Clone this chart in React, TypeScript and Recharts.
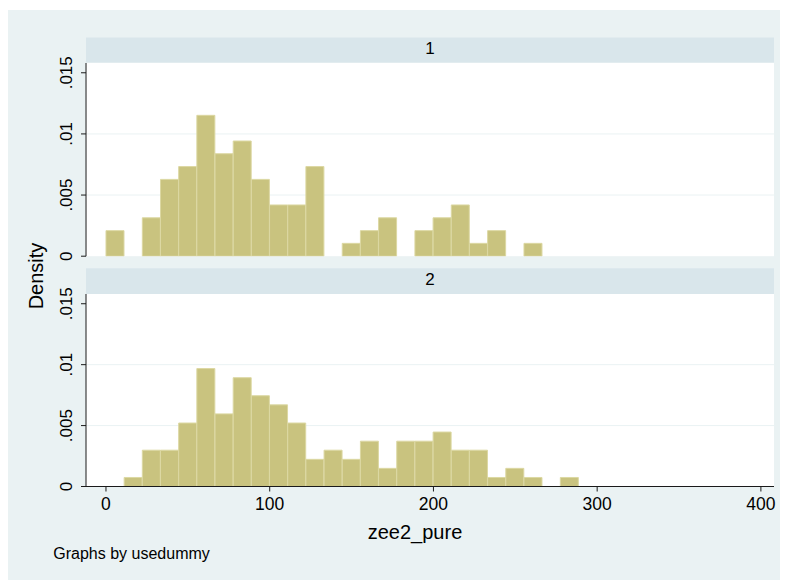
import React from 'react';
import { BarChart, Bar, XAxis, YAxis, CartesianGrid } from 'recharts';

// bin midpoints (bin width ~11.1)
const binMids = [
  5.55, 16.65, 27.75, 38.85, 49.95, 61.05, 72.15, 83.25, 94.35, 105.45, 116.55, 127.65, 138.75,
  149.85, 160.95, 172.05, 183.15, 194.25, 205.35, 216.45, 227.55, 238.65, 249.75, 260.85, 271.95, 283.05,
];

// usedummy = 1
const densityOne = [
  0.00209, 0, 0.00314, 0.00628, 0.00733, 0.01152, 0.00838, 0.00942, 0.00628, 0.00419, 0.00419, 0.00733, 0,
  0.00105, 0.00209, 0.00314, 0, 0.00209, 0.00314, 0.00419, 0.00105, 0.00209, 0, 0.00105, 0, 0,
];

// usedummy = 2
const densityTwo = [
  0, 0.00074, 0.00298, 0.00298, 0.00521, 0.00968, 0.00596, 0.00893, 0.00745, 0.0067, 0.00521, 0.00223, 0.00298,
  0.00223, 0.00372, 0.00149, 0.00372, 0.00372, 0.00447, 0.00298, 0.00298, 0.00074, 0.00149, 0.00074, 0, 0.00074,
];

const yTicks = [0, 0.005, 0.01, 0.015];
const yTickLabels = ['0', '.005', '.01', '.015'];
const xTicks = [0, 100, 200, 300, 400];
const xTickLabels = ['0', '100', '200', '300', '400'];

const FONT = '"Liberation Sans", Arial, Helvetica, sans-serif';
const BG = '#eaf2f3';
const STRIP = '#d9e6eb';
const BAR_FILL = '#c9c37f';
const BAR_LINE = '#dcd8a3';
const AXIS = '#1a1a1a';

const makeRows = (vals: number[]) => binMids.map((mid, i) => ({ mid, density: vals[i] }));

const YTick = (props: any) => {
  const { x, y, payload } = props;
  const i = yTicks.indexOf(payload.value);
  const bx = x - 7;
  return (
    <text
      x={bx}
      y={y}
      transform={`rotate(-90 ${bx} ${y})`}
      textAnchor="middle"
      fontSize={17}
      fontFamily={FONT}
      fill="#000"
    >
      {i >= 0 ? yTickLabels[i] : payload.value}
    </text>
  );
};

const XTick = (props: any) => {
  const { x, y, payload } = props;
  const i = xTicks.indexOf(payload.value);
  return (
    <text x={x} y={y + 16} textAnchor="middle" fontSize={17.5} fontFamily={FONT} fill="#000">
      {i >= 0 ? xTickLabels[i] : payload.value}
    </text>
  );
};

const Panel = ({ vals, showX, height, bottom }: { vals: number[]; showX: boolean; height: number; bottom: number }) => (
  <BarChart
    width={780}
    height={height}
    data={makeRows(vals)}
    margin={{ top: 20, right: 14, bottom, left: 0 }}
    barCategoryGap={0}
    barGap={0}
  >
    <CartesianGrid
      vertical={false}
      horizontalValues={[0.005, 0.01]}
      stroke={BG}
      strokeWidth={1}
      fill="#ffffff"
      fillOpacity={1}
    />
    <XAxis
      type="number"
      dataKey="mid"
      domain={[-12.2, 408]}
      allowDataOverflow
      ticks={xTicks}
      hide={!showX}
      height={40}
      tickSize={5}
      tick={<XTick />}
      axisLine={{ stroke: AXIS, strokeWidth: 1 }}
      tickLine={{ stroke: AXIS, strokeWidth: 1 }}
      interval={0}
    />
    <YAxis
      type="number"
      domain={[0, 0.0158]}
      allowDataOverflow
      ticks={yTicks}
      width={78}
      tickSize={5}
      tick={<YTick />}
      axisLine={{ stroke: AXIS, strokeWidth: 1 }}
      tickLine={{ stroke: AXIS, strokeWidth: 1 }}
      interval={0}
    />
    <Bar dataKey="density" fill={BAR_FILL} stroke={BAR_LINE} strokeWidth={1} isAnimationActive={false} />
  </BarChart>
);

export default function App() {
  return (
    <div style={{ position: 'relative', top: 2, width: 780, height: 572, background: BG, fontFamily: FONT }}>
      <svg width={780} height={572} style={{ position: 'absolute', left: 0, top: 0 }}>
        <rect x={78} y={27.5} width={688} height={25} fill={STRIP} />
        <text x={422} y={44} textAnchor="middle" fontSize={17} fontFamily={FONT} fill="#000">
          1
        </text>
        <rect x={78} y={258.3} width={688} height={25.7} fill={STRIP} />
        <text x={422} y={274.8} textAnchor="middle" fontSize={17} fontFamily={FONT} fill="#000">
          2
        </text>
        <text
          x={35}
          y={266}
          transform="rotate(-90 35 266)"
          textAnchor="middle"
          fontSize={20}
          fontFamily={FONT}
          fill="#000"
        >
          Density
        </text>
        <text x={407} y={529} textAnchor="middle" fontSize={20} fontFamily={FONT} fill="#000">
          zee2_pure
        </text>
        <text x={45.3} y={549} fontSize={16} fontFamily={FONT} fill="#000">
          Graphs by usedummy
        </text>
      </svg>
      <div style={{ position: 'absolute', left: 0, top: 32.5 }}>
        <Panel vals={densityOne} showX={false} height={218.2} bottom={5} />
      </div>
      <div style={{ position: 'absolute', left: 0, top: 264 }}>
        <Panel vals={densityTwo} showX={true} height={252.5} bottom={0} />
      </div>
    </div>
  );
}
